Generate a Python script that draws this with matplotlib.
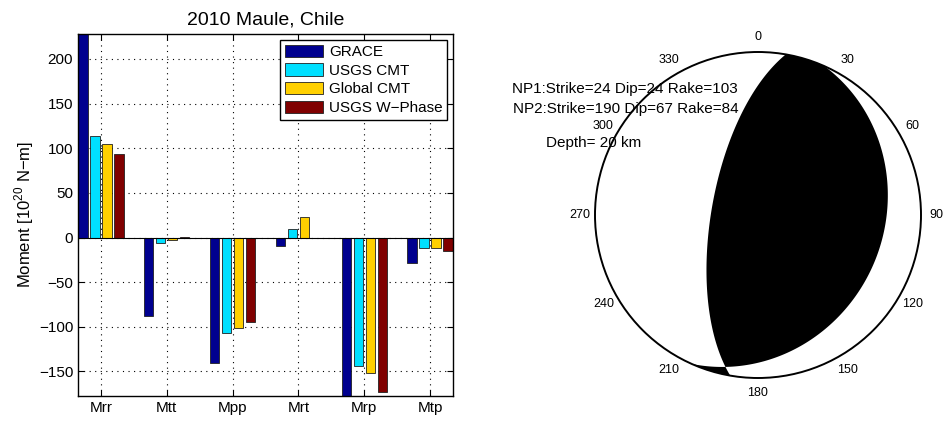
import numpy as np
import matplotlib
matplotlib.use('Agg')
import matplotlib.pyplot as plt
from matplotlib.patches import Circle

plt.rcParams['font.family'] = ['Liberation Sans', 'DejaVu Sans']
plt.rcParams['axes.unicode_minus'] = True

# ---------------- data ----------------
components = ['Mrr', 'Mtt', 'Mpp', 'Mrt', 'Mrp', 'Mtp']
series_names = ['GRACE', 'USGS CMT', 'Global CMT', 'USGS W\u2212Phase']
grace = [228, -88, -140, -10, -177.5, -29]
usgs_cmt = [113.5, -6, -107, 9.5, -143.5, -12]
global_cmt = [104.5, -3, -101.5, 23, -151.5, -12]
usgs_wphase = [93.5, 0.8, -94.5, -1, -172.5, -15.5]
series_colors = ['#00008F', '#00E0FF', '#FFD000', '#800000']
yticks = [-150, -100, -50, 0, 50, 100, 150, 200]

np1_strike, np1_dip, np1_rake = 24, 24, 103
np2_strike, np2_dip, np2_rake = 190, 67, 84
depth_km = 20
azimuth_labels = [0, 30, 60, 90, 120, 150, 180, 210, 240, 270, 300, 330]

# ---------------- figure ----------------
W, H = 947, 422
fig = plt.figure(figsize=(W / 100, H / 100), dpi=100)

# ---- bar chart ----
L, R, T, B = 78, 453, 34, 396
ax = fig.add_axes([L / W, (H - B) / H, (R - L) / W, (B - T) / H])
all_series = [grace, usgs_cmt, global_cmt, usgs_wphase]
nser = len(all_series)
x = np.arange(1, len(components) + 1)
group_w = min(0.8, nser / (nser + 1.5))
step = group_w / nser
bar_w = step * 0.8
for k, (vals, col, name) in enumerate(zip(all_series, series_colors, series_names)):
    off = -group_w / 2 + step * (k + 0.5)
    ax.bar(x + off, vals, width=bar_w, color=col, edgecolor='#202020',
           linewidth=0.6, label=name, zorder=2)
ax.axhline(0, color='black', lw=0.8, zorder=3)
alldata = np.concatenate([np.array(s, dtype=float) for s in all_series])
ax.set_ylim(alldata.min(), alldata.max())
edge = -group_w / 2 + step / 2 - bar_w / 2
ax.set_xlim(1 + edge, len(components) - edge)
ax.set_xticks(x)
ax.set_xticklabels(components, fontsize=11)
ax.set_yticks(yticks)
ax.tick_params(axis='both', labelsize=11, direction='in', length=4,
               top=True, right=True, width=0.8)
ax.grid(True, color='black', linestyle=(0, (1, 4)), linewidth=0.8)
ax.set_axisbelow(True)
for s in ax.spines.values():
    s.set_linewidth(1.0)
ax.set_title('2010 Maule, Chile', fontsize=14, pad=7)
ax.set_ylabel('Moment [10$^{\\mathregular{20}}$ N\u2212m]', fontsize=12, labelpad=2)
leg = ax.legend(loc='upper right', bbox_to_anchor=(0.985, 0.983), fontsize=11,
                frameon=True, fancybox=False, edgecolor='black', framealpha=1,
                handlelength=2.5, handleheight=0.85, labelspacing=0.28,
                handletextpad=0.4, borderpad=0.3, borderaxespad=0.0)
leg.get_frame().set_linewidth(1.0)

# ---- beachball ----
cx, cy, rad = 758, 215, 163
half = 200
ax2 = fig.add_axes([(cx - half) / W, (H - cy - half) / H, 2 * half / W, 2 * half / H])
ax2.set_xlim(-half / rad, half / rad)
ax2.set_ylim(-half / rad, half / rad)
ax2.axis('off')

def radiation(strike, dip, rake, rho, az):
    phi, dl, lam = np.radians([strike, dip, rake])
    n = np.array([-np.sin(dl) * np.sin(phi), np.sin(dl) * np.cos(phi), -np.cos(dl)])
    u = np.array([np.cos(lam) * np.cos(phi) + np.cos(dl) * np.sin(lam) * np.sin(phi),
                  np.cos(lam) * np.sin(phi) - np.cos(dl) * np.sin(lam) * np.cos(phi),
                  -np.sin(lam) * np.sin(dl)])
    inc = 2 * np.arcsin(np.clip(rho / np.sqrt(2), 0, 1))
    r = [np.cos(az) * np.sin(inc), np.sin(az) * np.sin(inc), np.cos(inc)]
    rn = r[0] * n[0] + r[1] * n[1] + r[2] * n[2]
    ru = r[0] * u[0] + r[1] * u[1] + r[2] * u[2]
    return rn * ru

rho_g, az_g = np.meshgrid(np.linspace(0, 1, 600), np.linspace(0, 2 * np.pi, 3601))
A = radiation(np1_strike, np1_dip, np1_rake, rho_g, az_g)
Xg = rho_g * np.sin(az_g)
Yg = rho_g * np.cos(az_g)
ax2.contourf(Xg, Yg, A, levels=[0, A.max() + 1], colors=['black'], antialiased=True)
ax2.add_patch(Circle((0, 0), 1.0, fill=False, edgecolor='black', lw=1.4, zorder=5))
for a in azimuth_labels:
    t = np.radians(a)
    ax2.text(1.095 * np.sin(t), 1.095 * np.cos(t), str(a), ha='center', va='center',
             fontsize=9)

fig.text(512 / W, 1 - 89.3 / H,
         f'NP1:Strike={np1_strike} Dip={np1_dip} Rake={np1_rake}',
         ha='left', va='center', fontsize=11)
fig.text(513 / W, 1 - 109 / H,
         f'NP2:Strike={np2_strike} Dip={np2_dip} Rake={np2_rake}',
         ha='left', va='center', fontsize=11)
fig.text(546 / W, 1 - 143.3 / H, f'Depth= {depth_km} km',
         ha='left', va='center', fontsize=11)

fig.savefig('out.png', dpi=100, facecolor='white')
